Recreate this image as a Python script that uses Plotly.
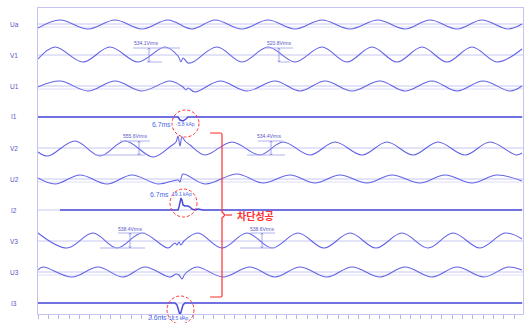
import plotly.graph_objects as go

# ---------------- data (x = sample index, v = deflection of each trace) ----------------
channels = ["Ua", "V1", "U1", "I1", "V2", "U2", "I2", "V3", "U3", "I3"]
offsets = [0, -31, -62, -93, -124, -155, -186, -217, -248, -279]

ua_t = [0, 22, 50, 77, 104, 130, 154, 177, 204, 230, 257, 284, 312, 340, 367, 392, 419, 444, 470, 484]
ua_v = [-4, 4, -5, 4, -5, 4, -5, 4, -5, 4, -5, 4, -5, 4, -5, 4, -5, 4, -5, 0]

v1_t = [0, 17, 45, 72, 100, 127, 140, 143, 145, 150, 155, 179, 204, 230, 257, 284, 309, 334, 359, 384, 409, 434, 459, 484]
v1_v = [-4, 8, -7, 8, -7, 8, -1, -7, -3, -8, -7, 8, -7, 8, -7, 8, -7, 8, -7, 8, -7, 8, -7, 6]

u1_t = [0, 22, 50, 77, 104, 132, 145, 148, 150, 157, 182, 209, 237, 262, 287, 314, 342, 367, 394, 419, 445, 472, 484]
u1_v = [-1, 5, -5, 5, -5, 5, -1, -4, -2, -6, 5, -5, 5, -5, 5, -5, 5, -5, 5, -5, 5, -5, 0]

i1_t = [0, 140, 142, 145, 148, 150, 484]
i1_v = [0, 0, -3, -4, -2, 0, 0]

v2_t = [0, 10, 37, 62, 87, 115, 133, 138, 140, 142, 144, 147, 152, 167, 194, 222, 245, 272, 297, 324, 349, 375, 400, 427, 452, 478, 484]
v2_v = [-4, -8, 7, -8, 7, -9, 2, 6, 12, 2, 11, 7, 3, -7, 6, -7, 6, -7, 6, -7, 6, -7, 6, -7, 6, -7, -5]

u2_t = [0, 17, 42, 69, 94, 120, 140, 142, 145, 167, 199, 225, 252, 277, 302, 329, 354, 382, 407, 434, 459, 484]
u2_v = [1, -5, 4, -5, 4, -5, -1, -3, 5, -5, 5, -4, 4, -4, 4, -4, 4, -4, 4, -4, 4, -2]

i2_t = [22, 140, 141, 142, 143, 144, 145, 147, 150, 152, 154, 157, 160, 165, 484]
i2_v = [0, 0, 3, 9, 12, 10, 5, 4, 4, 3, 1, 0, 1, 0, 0]

v3_t = [0, 29, 55, 79, 104, 130, 137, 139, 141, 143, 146, 160, 184, 209, 234, 260, 286, 312, 338, 364, 390, 415, 442, 467, 484]
v3_v = [8, -7, 8, -7, 8, -7, -2, -4, -1, -4, 0, 8, -7, 8, -7, 8, -7, 8, -7, 8, -7, 8, -7, 8, 2]

u3_t = [0, 5, 34, 60, 85, 107, 132, 138, 141, 144, 147, 159, 185, 212, 237, 262, 289, 314, 342, 367, 394, 419, 446, 470, 484]
u3_v = [2, 5, -5, 5, -5, 5, -5, -2, -3, -7, -2, 5, -5, 5, -5, 5, -5, 5, -5, 5, -5, 5, -5, 5, 2]

i3_t = [0, 137, 139, 140, 141, 142, 143, 144, 145, 147, 484]
i3_v = [0, 0, -2, -5, -9, -12, -9, -5, -2, 0, 0]

series_t = [ua_t, v1_t, u1_t, i1_t, v2_t, u2_t, i2_t, v3_t, u3_t, i3_t]
series_v = [ua_v, v1_v, u1_v, i1_v, v2_v, u2_v, i2_v, v3_v, u3_v, i3_v]

# RMS measurements: (channel, label)
rms_channels = ["V1", "V1", "V2", "V2", "V3", "V3"]
rms_labels = ["534.1Vrms", "520.8Vrms", "555.6Vrms", "534.4Vrms", "538.4Vrms", "538.6Vrms"]

# fault readings: (channel, time label, peak label)
fault_channels = ["I1", "I2", "I3"]
fault_times = ["6.7ms", "6.7ms", "2.6ms"]
fault_peaks = ["-5.8 kAp", "19.1 kAp", "-13.5 kAp"]

result_text = "차단성공"

# ---------------- styling / layout ----------------
W, H = 529, 323
ML, MR, MT, MB = 38, 6, 8, 9
XMIN, XMAX = 0, 485
YMIN, YMAX = -290, 16

WAVE = "#6262e6"
CUR = "#4c4cda"
BASE = "#c6c6f4"
FRAME = "#c4c4f2"
TXT = "#5656c8"
RED = "#ff3030"


def ypap(y):
    return (y - YMIN) / (YMAX - YMIN)


def xpap(x):
    return (x - XMIN) / (XMAX - XMIN)


fig = go.Figure()
shapes = []
annotations = []

for name, off, t, v in zip(channels, offsets, series_t, series_v):
    is_cur = name.startswith("I")
    # baseline
    shapes.append(dict(type="line", xref="x", yref="y", x0=XMIN, x1=XMAX, y0=off, y1=off,
                       line=dict(color=BASE, width=1), layer="below"))
    if name.startswith("U"):
        shapes.append(dict(type="line", xref="x", yref="y", x0=XMIN, x1=XMAX, y0=off - 3, y1=off - 3,
                           line=dict(color="#dcdcf8", width=1), layer="below"))
    fig.add_trace(go.Scatter(
        x=t, y=[off + val for val in v], mode="lines",
        line=dict(color=CUR if is_cur else WAVE, width=1.5 if is_cur else 1.05,
                  shape="linear" if is_cur else "spline"),
        hoverinfo="skip", showlegend=False))
    annotations.append(dict(text=name, xref="paper", yref="paper",
                            x=xpap(-24), y=ypap(off), xanchor="center", yanchor="middle",
                            showarrow=False, font=dict(size=6.5, color=TXT, family="Liberation Sans")))

# RMS measurement cursors (layout positions)
rms_pos = [  # text x, arrow x, top line x0..x1, bottom line x0..x1
    (108, 111, 95, 142, 109, 124),
    (241, 241, 227, 255, 241, 252),
    (97, 101, 82, 112, 57, 107),
    (231, 233, 220, 245, 209, 247),
    (92, 92, 80, 107, 62, 107),
    (224, 224, 212, 237, 202, 237),
]
rms_levels = {"V1": (7, -7), "V2": (7, -7), "V3": (8, -7)}
for ch, lab, pos in zip(rms_channels, rms_labels, rms_pos):
    off = offsets[channels.index(ch)]
    top, bot = rms_levels[ch]
    xt, xa, tx0, tx1, bx0, bx1 = pos
    for (x0, x1, yy) in [(tx0, tx1, off + top), (bx0, bx1, off + bot)]:
        shapes.append(dict(type="line", xref="x", yref="y", x0=x0, x1=x1, y0=yy, y1=yy,
                           line=dict(color="#b0b0ee", width=1)))
    shapes.append(dict(type="line", xref="x", yref="y", x0=xa, x1=xa, y0=off + top, y1=off + bot,
                       line=dict(color="#8a8ae6", width=0.8)))
    for yy, d in [(off + top, -1.5), (off + bot, 1.5)]:
        shapes.append(dict(type="path", xref="x", yref="y",
                           path=f"M{xa-1.3},{yy+d} L{xa},{yy} L{xa+1.3},{yy+d}",
                           line=dict(color="#8a8ae6", width=0.8)))
    annotations.append(dict(text=lab, xref="x", yref="paper", x=xt, y=ypap(off + 12),
                            xanchor="center", yanchor="middle", showarrow=False,
                            font=dict(size=5, color=TXT, family="Liberation Sans")))

# fault readings with dashed red circles
fault_pos = [  # circle x0,x1, y0,y1 (relative to channel), time-label x, peak-label x, label y (relative)
    (134, 161, 7, -20, 123, 147, -7),
    (132, 159, 21, -7, 121, 144, 16),
    (129, 156, 7, -21, 119, 140, -14.5),
]
for ch, tl, pl, pos in zip(fault_channels, fault_times, fault_peaks, fault_pos):
    off = offsets[channels.index(ch)]
    cx0, cx1, cy0, cy1, xtl, xpl, yl = pos
    shapes.append(dict(type="circle", xref="x", yref="paper", x0=cx0, x1=cx1,
                       y0=ypap(off + cy1), y1=ypap(off + cy0),
                       line=dict(color=RED, width=1, dash="3px,2px")))
    annotations.append(dict(text=tl, xref="x", yref="paper", x=xtl, y=ypap(off + yl),
                            xanchor="center", yanchor="middle", showarrow=False,
                            font=dict(size=6.8, color="#4a6ae6", family="Liberation Sans")))
    annotations.append(dict(text=pl, xref="x", yref="paper", x=xpl, y=ypap(off + yl),
                            xanchor="center", yanchor="middle", showarrow=False,
                            font=dict(size=5, color="#4a6ae6", family="Liberation Sans")))

# red bracket and result text
bt, bb, bm = -109, -273, -191
shapes.append(dict(type="path", xref="x", yref="y",
                   path=(f"M172,{bt} L183,{bt} Q184,{bt} 184,{bt-2} L184,{bm+3} L187,{bm} "
                         f"L184,{bm-3} L184,{bb+2} Q184,{bb} 183,{bb} L172,{bb}"),
                   line=dict(color=RED, width=1.2)))
shapes.append(dict(type="line", xref="x", yref="y", x0=188, x1=194, y0=bm, y1=bm,
                   line=dict(color=RED, width=1.2)))
annotations.append(dict(text="<b>" + result_text + "</b>", xref="x", yref="y", x=197, y=bm,
                        xanchor="left", yanchor="middle", showarrow=False,
                        font=dict(size=10, color=RED, family="Noto Sans CJK KR")))

fig.update_layout(
    width=W, height=H, margin=dict(l=ML, r=MR, t=MT, b=MB),
    paper_bgcolor="white", plot_bgcolor="white", showlegend=False,
    shapes=shapes, annotations=annotations,
    xaxis=dict(range=[XMIN, XMAX], showline=True, linecolor=FRAME, linewidth=1, mirror=True,
               ticks="outside", ticklen=4, tickcolor="#b4b4ee", tick0=0, dtick=10.35,
               showticklabels=False, showgrid=False, zeroline=False, fixedrange=True),
    yaxis=dict(range=[YMIN, YMAX], showline=True, linecolor=FRAME, linewidth=1, mirror=True,
               ticks="", showticklabels=False, showgrid=False, zeroline=False, fixedrange=True),
)

fig.write_html("out.html")
